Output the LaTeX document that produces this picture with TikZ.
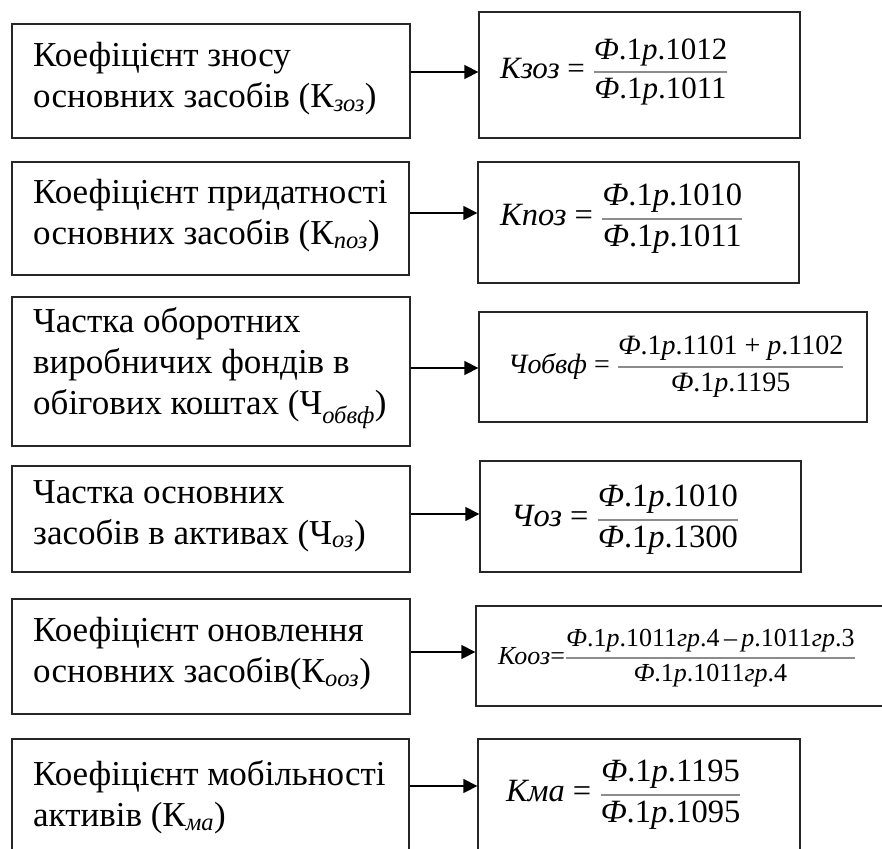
\documentclass[tikz,border=0pt]{standalone}
\usepackage{fontspec}
\setmainfont{Liberation Serif}
\usetikzlibrary{arrows.meta}
\newcommand\ffrac[2]{\textcolor{black!45}{$\displaystyle{\textcolor{black}{\hbox{#1}}\above 1.8pt\textcolor{black}{\hbox{#2}}}$}}
\newcommand\sub[1]{\textsubscript{\textit{#1}}}
\begin{document}
\begin{tikzpicture}[x=1pt,y=-1pt,
  box/.style={draw=black!85, line width=1.3pt, inner sep=0pt},
  lbl/.style={anchor=west, align=left, inner sep=0pt, font=\fontsize{35}{41}\selectfont},
  frm/.style={anchor=west, inner sep=0pt},
  arr/.style={line width=1.3pt, -{Triangle[length=14pt,width=14pt]}}]
\useasboundingbox (0,0) rectangle (882,848);
\fill[white] (0,0) rectangle (882,848);
% boxes
\node[box, minimum width=398pt, minimum height=114pt] (l1) at (211,81) {};
\node[box, minimum width=321pt, minimum height=126pt] (r1) at (639.5,75) {};
\node[box, minimum width=397pt, minimum height=113pt] (l2) at (210.5,218.5) {};
\node[box, minimum width=321pt, minimum height=121pt] (r2) at (638.5,222.5) {};
\node[box, minimum width=398pt, minimum height=149pt] (l3) at (211,371.5) {};
\node[box, minimum width=388pt, minimum height=110pt] (r3) at (673,367) {};
\node[box, minimum width=398pt, minimum height=106pt] (l4) at (211,519) {};
\node[box, minimum width=321pt, minimum height=111pt] (r4) at (640.5,516.5) {};
\node[box, minimum width=398pt, minimum height=115pt] (l5) at (211,656.5) {};
\node[box, minimum width=416pt, minimum height=100pt] (r5) at (684,656) {};
\node[box, minimum width=397pt, minimum height=121pt] (l6) at (210.5,799.5) {};
\node[box, minimum width=322pt, minimum height=121pt] (r6) at (639,799.5) {};
% left texts
\node[lbl] (t1) at (33,79) {Коефіцієнт зносу\\основних засобів (К\sub{зоз})};
\node[lbl] (t2) at (33,216) {Коефіцієнт придатності\\основних засобів (К\sub{поз})};
\node[lbl] (t3) at (33,368) {Частка оборотних\\виробничих фондів в\\обігових коштах (Ч\sub{обвф})};
\node[lbl] (t4) at (33,516) {Частка основних\\засобів в активах (Ч\sub{оз})};
\node[lbl] (t5) at (33,654) {Коефіцієнт оновлення\\основних засобів(К\sub{ооз})};
\node[lbl] (t6) at (33,797) {Коефіцієнт мобільності\\активів (К\sub{ма})};
% formulas
\node[frm, font=\fontsize{31}{36}\selectfont] (f1) at (500,72) {\textit{Кзоз} = \ffrac{\textit{Ф}.1\textit{р}.1012}{\textit{Ф}.1\textit{р}.1011}};
\node[frm, font=\fontsize{32.5}{38}\selectfont] (f2) at (500,219) {\textit{Кпоз} = \ffrac{\textit{Ф}.1\textit{р}.1010}{\textit{Ф}.1\textit{р}.1011}};
\node[frm, font=\fontsize{28}{32}\selectfont] (f3) at (508,367) {\textit{Чобвф} = \ffrac{\textit{Ф}.1\textit{р}.1101 + \textit{р}.1102}{\textit{Ф}.1\textit{р}.1195}};
\node[frm, font=\fontsize{32.5}{38}\selectfont] (f4) at (511,520) {\textit{Чоз} = \ffrac{\textit{Ф}.1\textit{р}.1010}{\textit{Ф}.1\textit{р}.1300}};
\node[frm, font=\fontsize{26}{30}\selectfont] (f5) at (498,658) {\textit{Кооз}=\ffrac{\textit{Ф}.1\textit{р}.1011\textit{гр}.4\,--\,\textit{р}.1011\textit{гр}.3}{\textit{Ф}.1\textit{р}.1011\textit{гр}.4}};
\node[frm, font=\fontsize{32.5}{38}\selectfont] (f6) at (506,795) {\textit{Кма} = \ffrac{\textit{Ф}.1\textit{р}.1195}{\textit{Ф}.1\textit{р}.1095}};
% arrows
\coordinate (a1) at (0,72);
\coordinate (a2) at (0,213);
\coordinate (a3) at (0,368);
\coordinate (a4) at (0,514);
\coordinate (a5) at (0,652);
\coordinate (a6) at (0,786);
\draw[arr] (l1.east |- a1) -- (r1.west |- a1);
\draw[arr] (l2.east |- a2) -- (r2.west |- a2);
\draw[arr] (l3.east |- a3) -- (r3.west |- a3);
\draw[arr] (l4.east |- a4) -- (r4.west |- a4);
\draw[arr] (l5.east |- a5) -- (r5.west |- a5);
\draw[arr] (l6.east |- a6) -- (r6.west |- a6);
\end{tikzpicture}
\end{document}
